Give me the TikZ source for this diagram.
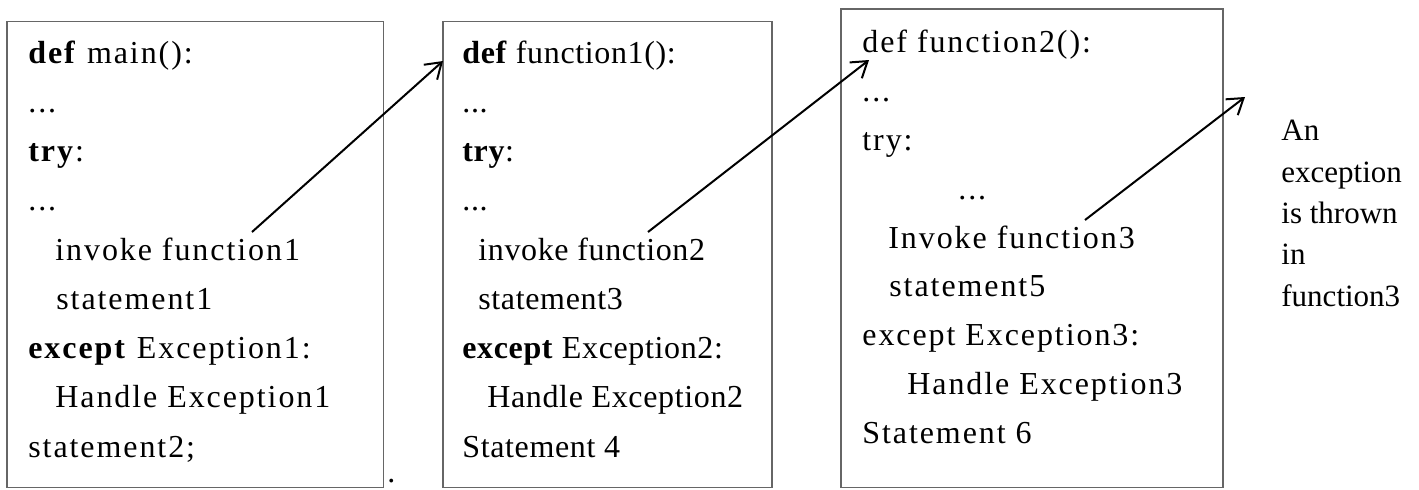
\documentclass[tikz,border=0pt]{standalone}
\usepackage{fontspec}
\setmainfont{Liberation Serif}
\newfontfamily\codefont[LetterSpace=6]{Liberation Serif}
\newfontfamily\tightcodefont[LetterSpace=2]{Liberation Serif}
\usetikzlibrary{arrows.meta}
\begin{document}
\begin{tikzpicture}[x=0.5pt,y=-0.5pt,
  frame/.style={draw=black!60, line width=0.8pt, inner sep=0pt, outer sep=0pt, anchor=north west},
  code/.style={anchor=base west, inner sep=0pt, font=\codefont\fontsize{16pt}{18pt}\selectfont},
  tightcode/.style={code, font=\tightcodefont\fontsize{16pt}{18pt}\selectfont},
  note/.style={anchor=base west, inner sep=0pt, font=\fontsize{15.5pt}{18pt}\selectfont},
  call/.style={-{Straight Barb[length=7.5pt,width=10pt]}, line width=1pt}
]
\useasboundingbox (0,0) rectangle (1419,489);

% the three stack frames
\node[frame, minimum width=188.25pt, minimum height=233pt] (box1) at (7,21.5) {};
\node[frame, minimum width=164.5pt, minimum height=233pt] (box2) at (443,21.5) {};
\node[frame, minimum width=191pt, minimum height=239.25pt] (box3) at (841,9) {};

% main()
\node[code] (m1) at (28,63)     {\textbf{def} main():};
\node[code] (m2) at (28,112.3)  {...};
\node[code] (m3) at (28,161.5)  {\textbf{try}:};
\node[code] (m4) at (28,210.8)  {...};
\node[code] (m5) at (55,260)    {invoke function1};
\node[code] (m6) at (56,309.3)  {statement1};
\node[code] (m7) at (28,358.5)  {\textbf{except} Exception1:};
\node[code] (m8) at (55,407.8)  {Handle Exception1};
\node[code] (m9) at (28,457)    {statement2;};

% function1()
\node[tightcode] (p1) at (462,63)    {\textbf{def} function1():};
\node[tightcode] (p2) at (462,112.3) {...};
\node[tightcode] (p3) at (462,161.5) {\textbf{try}:};
\node[tightcode] (p4) at (462,210.8) {...};
\node[tightcode] (p5) at (478,260)   {invoke function2};
\node[tightcode] (p6) at (478,309.3) {statement3};
\node[tightcode] (p7) at (462,358.5) {\textbf{except} Exception2:};
\node[tightcode] (p8) at (487,407.8) {Handle Exception2};
\node[tightcode] (p9) at (462,457)   {Statement 4};

% function2()
\node[code] (q1) at (862,52)    {def function2():};
\node[code] (q2) at (862,101)   {...};
\node[code] (q3) at (862,150)   {try:};
\node[code] (q4) at (958,199)   {...};
\node[code] (q5) at (888,248)   {Invoke function3};
\node[code] (q6) at (889,296)   {statement5};
\node[code] (q7) at (862,345)   {except Exception3:};
\node[code] (q8) at (907,394)   {Handle Exception3};
\node[code] (q9) at (862,443)   {Statement 6};

% stray full stop beside the first frame
\node[code, text height=2pt, text depth=0pt] (dot) at (387,482) {.};

% remark on the right
\node[note] (n1) at (1281,140) {An};
\node[note] (n2) at (1281,182) {exception};
\node[note] (n3) at (1281,223) {is thrown};
\node[note] (n4) at (1281,264) {in};
\node[note] (n5) at (1281,306) {function3};

% call arrows
\coordinate (s1) at (252,232);
\coordinate (t1) at (443,61);
\coordinate (s2) at (648,232);
\coordinate (t2) at (869,60);
\coordinate (s3) at (1085,220);
\coordinate (t3) at (1245,97);
\draw[call] (s1) -- (t1);
\draw[call] (s2) -- (t2);
\draw[call] (s3) -- (t3);
\end{tikzpicture}
\end{document}
